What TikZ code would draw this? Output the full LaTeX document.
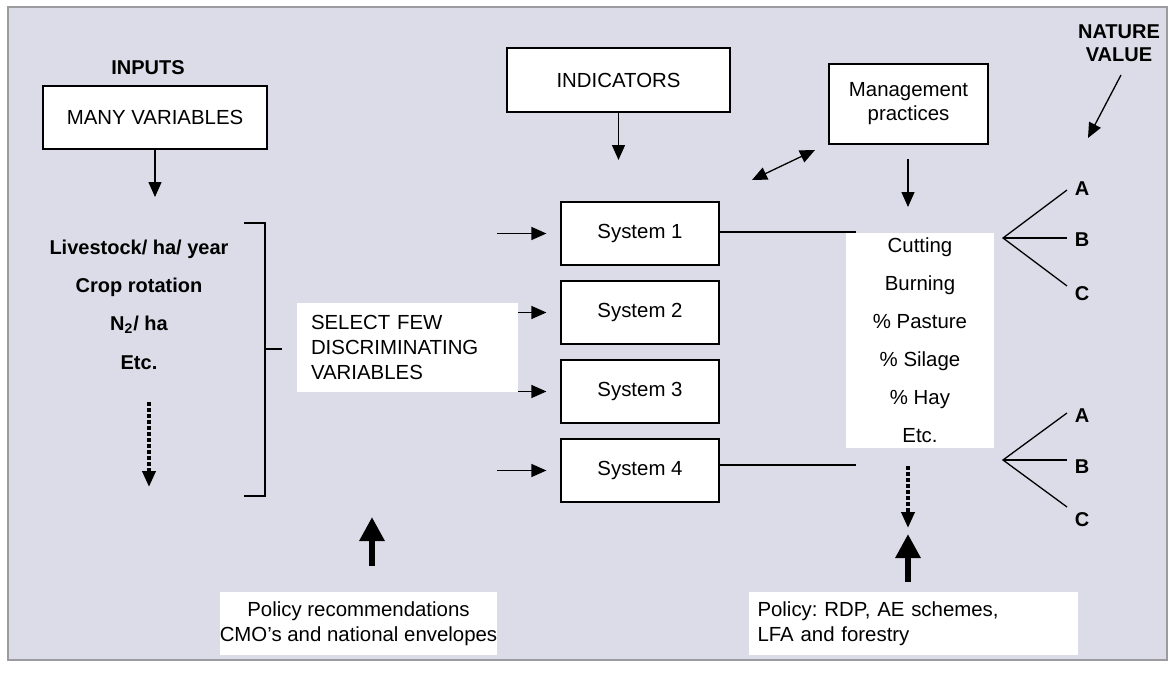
\documentclass[tikz,border=0pt]{standalone}
\usepackage{fontspec}
\setmainfont{Liberation Sans}
\usetikzlibrary{arrows.meta}
\definecolor{bg}{RGB}{220,220,232}
\definecolor{framec}{RGB}{155,155,160}
\frenchspacing
\begin{document}
\begin{tikzpicture}[x=0.5pt,y=-0.5pt,
  every node/.style={font=\fontsize{10.2}{12.5}\selectfont, inner sep=0pt},
  box/.style={draw, fill=white, line width=0.6pt, align=center},
  wbox/.style={fill=white},
  lbl/.style={font=\fontsize{10}{12}\selectfont\bfseries},
  arr/.style={line width=0.65pt, -{Triangle[length=7.5pt,width=6.5pt]}},
  dbl/.style={line width=0.65pt, {Triangle[length=7.5pt,width=6.5pt]}-{Triangle[length=7.5pt,width=6.5pt]}},
  dotarr/.style={line width=1.9pt, dash pattern=on 2pt off 1pt, -{Triangle[length=8pt,width=6.5pt]}},
  bigarr/.style={line width=3pt, -{Triangle[length=12pt,width=12pt]}},
  ln/.style={line width=0.65pt}
]
\useasboundingbox (0,0) rectangle (1175,675);
\draw[framec, fill=bg, line width=0.8pt] (8,7) rectangle (1167,660);

% left column
\node[lbl] (inputs) at (148,68) {INPUTS};
\node[box, minimum width=112pt, minimum height=31.5pt] (many) at (155,117.5) {MANY VARIABLES};
\coordinate (manyend) at (155,197);
\draw[arr] (many.south) -- (manyend);

\node[lbl] (l1) at (139,249) {Livestock/ ha/ year};
\node[lbl] (l2) at (139,287) {Crop rotation};
\node[lbl] (l3) at (139,325) {N\textsubscript{2}/ ha};
\node[lbl] (l4) at (139,363) {Etc.};
\coordinate (dots) at (149,402);
\coordinate (dote) at (149,487);
\draw[dotarr] (dots) -- (dote);

% bracket
\coordinate (bt) at (244,223);
\coordinate (bb) at (244,496);
\draw[ln] (bt) -- (265,223) -- (265,496) -- (bb);
\coordinate (bm) at (265,349);
\coordinate (bme) at (282,349);
\draw[ln] (bm) -- (bme);

% systems
\node[box, minimum width=79pt, minimum height=31.5pt] (s1) at (640,233.5) {System 1};
\node[box, minimum width=79pt, minimum height=31.5pt] (s2) at (640,312.5) {System 2};
\node[box, minimum width=79pt, minimum height=31.5pt] (s3) at (640,391.5) {System 3};
\node[box, minimum width=79pt, minimum height=31.5pt] (s4) at (640,470.5) {System 4};

\coordinate (a1) at (497,233.5);
\coordinate (a2) at (497,312.5);
\coordinate (a3) at (497,391.5);
\coordinate (a4) at (497,470.5);
\draw[arr] (a1) -- ([xshift=-7pt]s1.west);
\draw[arr] (a2) -- ([xshift=-7pt]s2.west);
\draw[arr] (a3) -- ([xshift=-7pt]s3.west);
\draw[arr] (a4) -- ([xshift=-7pt]s4.west);

\node[wbox, minimum width=110.5pt, minimum height=44.5pt, text width=110.5pt, align=left, inner xsep=0pt,
      font=\fontsize{10.2}{12.5}\selectfont] (sel) at (407.5,347.5)
      {\hspace*{7pt}SELECT FEW\\\hspace*{7pt}DISCRIMINATING\\\hspace*{7pt}VARIABLES};

% indicators
\node[box, minimum width=111.5pt, minimum height=32pt] (ind) at (618.5,80) {INDICATORS};
\coordinate (indend) at (618.5,160);
\draw[arr] (ind.south) -- (indend);

% management
\node[box, minimum width=79.5pt, minimum height=40pt, font=\fontsize{10.2}{12}\selectfont] (mg) at (908.5,104) {Management\\practices};
\coordinate (mgs) at (908,159);
\coordinate (mge) at (908,207);
\draw[arr] (mgs) -- (mge);
\coordinate (d1) at (752,180);
\coordinate (d2) at (815,150);
\draw[dbl] (d1) -- (d2);

% practices list
\node[wbox, minimum width=74pt, minimum height=107.5pt, align=center, font=\fontsize{10.2}{19}\selectfont] (cut) at (920,340.5)
  {Cutting\\Burning\\\% Pasture\\\% Silage\\\% Hay\\Etc.};
\coordinate (c1) at (856,232);
\coordinate (c4) at (856,465);
\draw[ln] (s1.east |- c1) -- (c1);
\draw[ln] (s4.east |- c4) -- (c4);

\coordinate (cds) at (908,466);
\coordinate (cde) at (908,528);
\draw[dotarr] (cds) -- (cde);

% nature value
\node[lbl, align=center, font=\fontsize{10}{11.5}\selectfont\bfseries] (nv) at (1119,43) {NATURE\\VALUE};
\coordinate (nvs) at (1121,75);
\coordinate (nve) at (1088,138);
\draw[arr] (nvs) -- (nve);

\coordinate (br1) at (1003,238);
\coordinate (ta) at (1067,190);
\coordinate (tb) at (1067,238);
\coordinate (tc) at (1067,286);
\draw[ln] (ta) -- (br1) -- (tc);
\draw[ln] (br1) -- (tb);
\node[lbl] (A1) at (1082,189) {A};
\node[lbl] (B1) at (1082,240) {B};
\node[lbl] (C1) at (1082,294) {C};

\coordinate (br2) at (1003,460);
\coordinate (ua) at (1067,413);
\coordinate (ub) at (1067,460);
\coordinate (uc) at (1067,507);
\draw[ln] (ua) -- (br2) -- (uc);
\draw[ln] (br2) -- (ub);
\node[lbl] (A2) at (1082,416) {A};
\node[lbl] (B2) at (1082,467) {B};
\node[lbl] (C2) at (1082,520) {C};

% policy boxes
\node[wbox, minimum width=138.5pt, minimum height=31.5pt, align=center] (p1) at (358.5,623.5)
  {Policy recommendations\\CMO’s and national envelopes};
\coordinate (p1a) at (372,566);
\coordinate (p1b) at (372,517);
\draw[bigarr] (p1a) -- (p1b);

\node[wbox, minimum width=164.5pt, minimum height=31.5pt, text width=156pt, inner xsep=4pt, align=left] (p2) at (913.5,623.5)
  {Policy: RDP, AE schemes,\\LFA and forestry};
\coordinate (p2a) at (908,582);
\coordinate (p2b) at (908,534);
\draw[bigarr] (p2a) -- (p2b);
\end{tikzpicture}
\end{document}
